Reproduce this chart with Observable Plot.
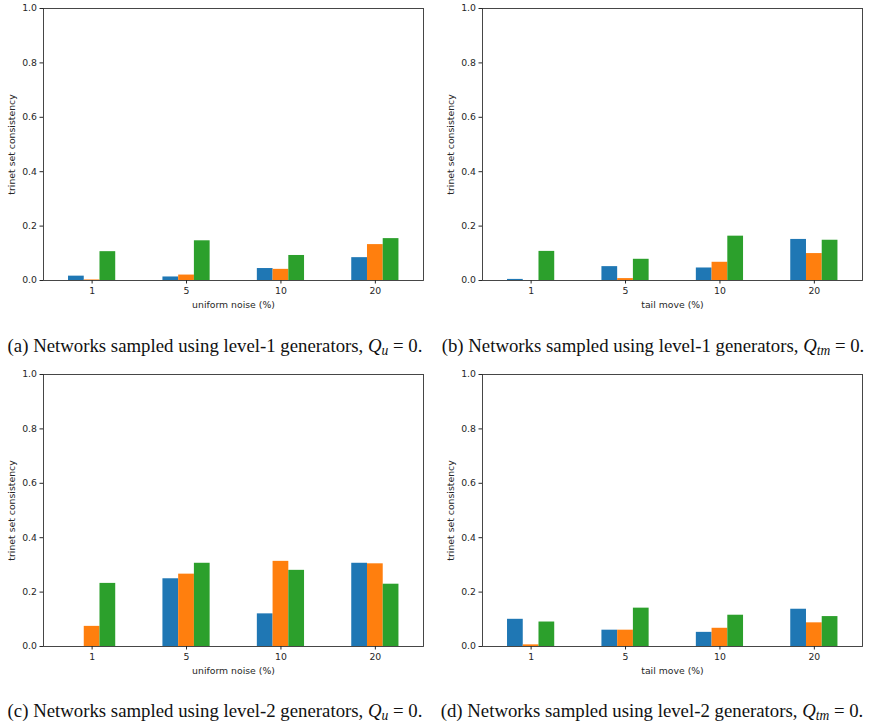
<!DOCTYPE html>
<html><head><meta charset="utf-8">
<script src="https://cdn.jsdelivr.net/npm/d3@7"></script>
<script src="https://cdn.jsdelivr.net/npm/@observablehq/plot@0.6"></script>
<style>
body{margin:0;background:#fff;}
#root{position:relative;width:871px;height:726px;overflow:hidden;background:#fff;}
.panel{position:absolute;}
.cap{position:absolute;font-family:"Liberation Serif";font-size:18.8px;line-height:20px;white-space:nowrap;transform:translateX(-50%);color:#111;}
.cap i sub{font-size:72%;vertical-align:-3px;line-height:0;}
</style></head><body><div id="root"></div>
<script>
// categories and series
const categories = ["1", "5", "10", "20"];
const seriesColors = ["#1f77b4", "#ff7f0e", "#2ca02c"];
const yTicks = [0, 0.2, 0.4, 0.6, 0.8, 1.0];
const yLabel = "trinet set consistency";

// (a) level-1, uniform noise
const aS1 = [0.016, 0.013, 0.044, 0.084];
const aS2 = [0.002, 0.020, 0.041, 0.132];
const aS3 = [0.106, 0.146, 0.092, 0.154];
// (b) level-1, tail move
const bS1 = [0.004, 0.051, 0.046, 0.151];
const bS2 = [0.000, 0.007, 0.067, 0.099];
const bS3 = [0.107, 0.078, 0.163, 0.148];
// (c) level-2, uniform noise
const cS1 = [0.000, 0.249, 0.120, 0.306];
const cS2 = [0.074, 0.266, 0.313, 0.304];
const cS3 = [0.232, 0.306, 0.280, 0.229];
// (d) level-2, tail move
const dS1 = [0.100, 0.060, 0.052, 0.137];
const dS2 = [0.006, 0.060, 0.067, 0.087];
const dS3 = [0.090, 0.141, 0.115, 0.110];

const xLabels = ["uniform noise (%)", "tail move (%)", "uniform noise (%)", "tail move (%)"];

function rows(s1, s2, s3) {
  const out = [];
  [s1, s2, s3].forEach((arr, s) => arr.forEach((v, i) => out.push({i, s, v})));
  return out;
}

const barW = 1 / 6;

function panel(data, xLabel) {
  return Plot.plot({
    width: 430, height: 318,
    marginLeft: 43, marginRight: 7, marginTop: 8, marginBottom: 38,
    style: {fontFamily: "DejaVu Sans", fontSize: "9.3px", color: "#262626", background: "transparent"},
    x: {domain: [-0.515, 3.51]},
    y: {domain: [0, 1]},
    marks: [
      Plot.rectY(data, {
        x1: d => d.i + (d.s - 1.5) * barW,
        x2: d => d.i + (d.s - 0.5) * barW,
        y: "v",
        fill: d => seriesColors[d.s]
      }),
      Plot.frame({stroke: "#333", strokeWidth: 0.9}),
      Plot.axisY({ticks: yTicks, tickFormat: d3.format(".1f"), tickSize: 3.5, tickPadding: 3,
        label: yLabel, labelAnchor: "center", labelOffset: 35, labelArrow: "none"}),
      Plot.axisX({ticks: [0, 1, 2, 3], tickFormat: i => categories[i], tickSize: 3.5, tickPadding: 3,
        label: xLabel, labelAnchor: "center", labelOffset: 27, labelArrow: "none"})
    ]
  });
}

const root = document.getElementById("root");
const panels = [
  {data: rows(aS1, aS2, aS3), left: 0, top: 0},
  {data: rows(bS1, bS2, bS3), left: 439, top: 0},
  {data: rows(cS1, cS2, cS3), left: 0, top: 366},
  {data: rows(dS1, dS2, dS3), left: 439, top: 366}
];
panels.forEach((p, k) => {
  const div = document.createElement("div");
  div.className = "panel";
  div.style.left = p.left + "px";
  div.style.top = p.top + "px";
  div.appendChild(panel(p.data, xLabels[k]));
  root.appendChild(div);
});

const captions = [
  {html: '(a) Networks sampled using level-1 generators, <i>Q<sub>u</sub></i> = 0.', x: 215, y: 336},
  {html: '(b) Networks sampled using level-1 generators, <i>Q<sub>tm</sub></i> = 0.', x: 653, y: 336},
  {html: '(c) Networks sampled using level-2 generators, <i>Q<sub>u</sub></i> = 0.', x: 215, y: 701},
  {html: '(d) Networks sampled using level-2 generators, <i>Q<sub>tm</sub></i> = 0.', x: 652, y: 701}
];
captions.forEach(c => {
  const d = document.createElement("div");
  d.className = "cap";
  d.innerHTML = c.html;
  d.style.left = c.x + "px";
  d.style.top = c.y + "px";
  root.appendChild(d);
});
</script></body></html>
